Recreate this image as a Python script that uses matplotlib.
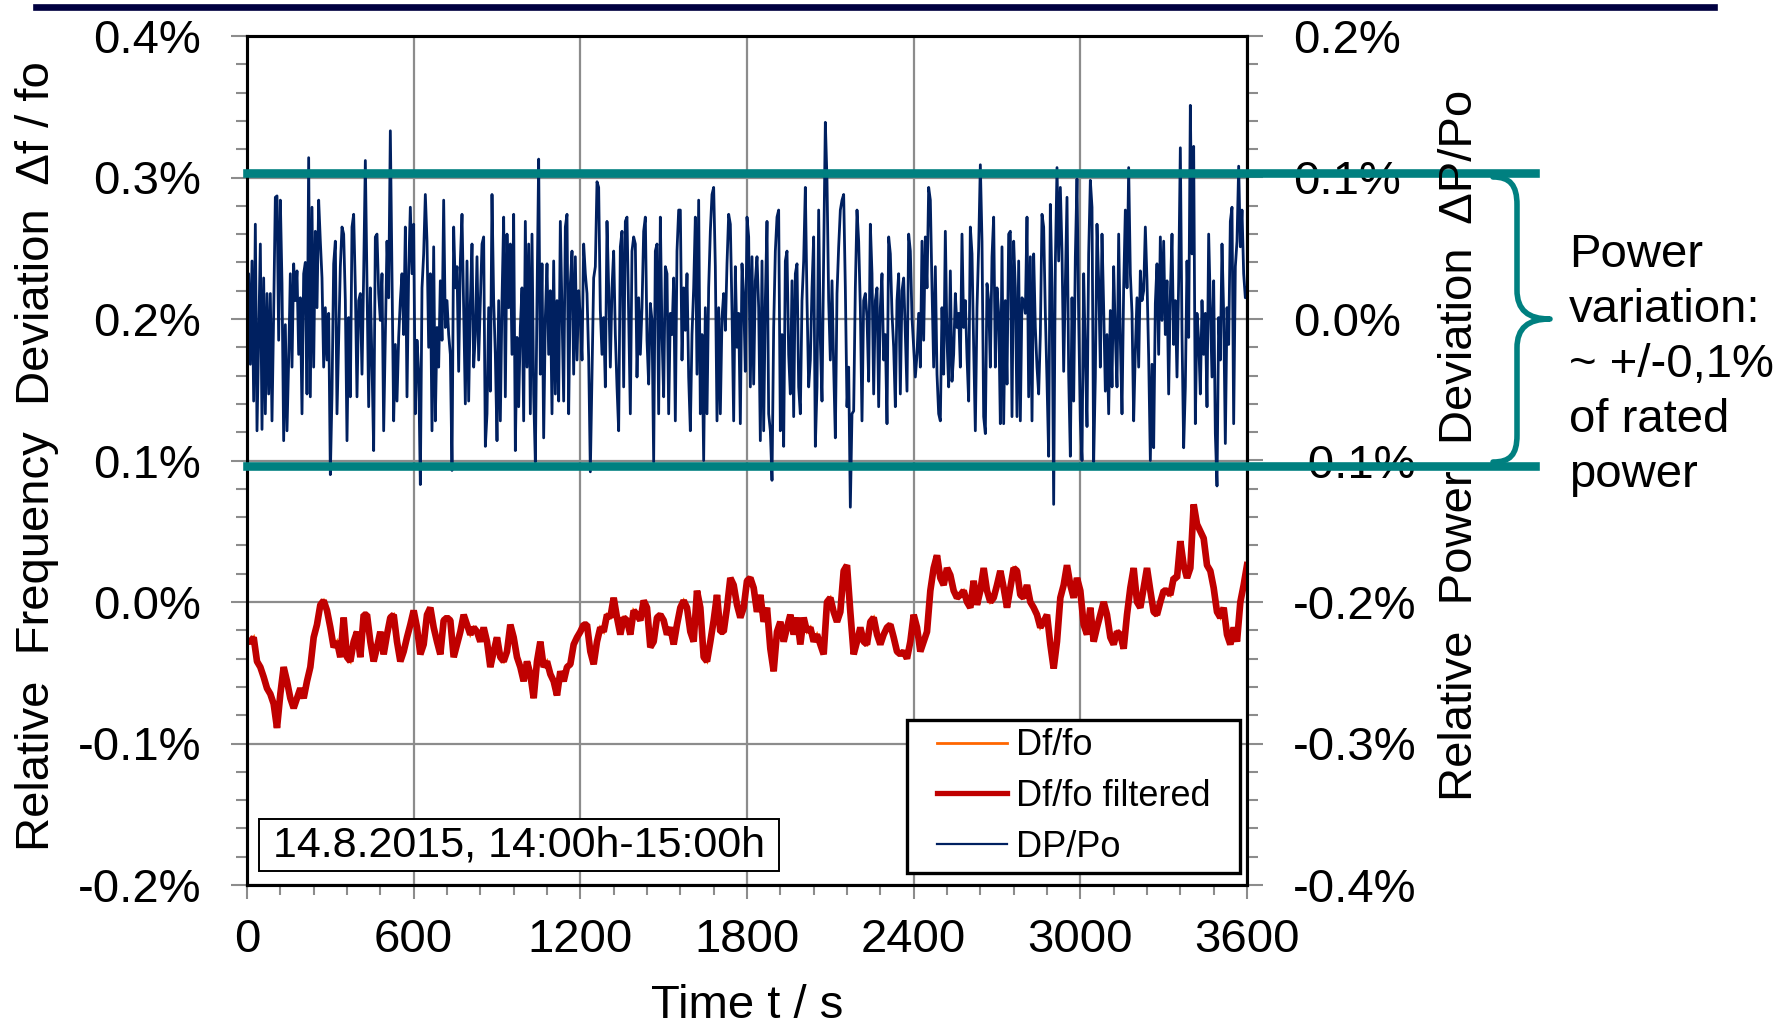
import matplotlib
matplotlib.use("Agg")
import matplotlib.pyplot as plt
import numpy as np
from matplotlib.lines import Line2D
from matplotlib.path import Path
from matplotlib.patches import PathPatch, Rectangle
from matplotlib.ticker import MultipleLocator, FuncFormatter

plt.rcParams['font.family'] = ['Liberation Sans', 'DejaVu Sans']
plt.rcParams['axes.unicode_minus'] = False

# DATA
# DP/Po, units of 0.001 %, one sample every ~6 s over 0..3600 s
dp_po_milli = [
    -15, 32, -32, 41, -58, 67, -79, -13, 53, -78,
    29, -67, 18, -53, 18, -72, 4, 86, 87, -15,
    84, 25, -86, -4, -79, -29, 32, -34, 39, 13,
    34, -25, 15, -67, 32, 40, -53, 114, -55, 79,
    -34, 62, 8, 84, 55, 29, -34, 8, -29, 4,
    -110, -53, 39, 55, -67, -15, 37, 65, 60, 13,
    -86, 1, -55, 65, 74, 22, -55, 13, 18, -39,
    32, 112, 27, -62, 22, -32, -93, 58, 60, 18,
    -1, 32, -79, -11, 55, 15, 133, 27, -72, -18,
    -58, -13, 13, 32, -11, 65, -55, 34, 79, 32,
    67, -67, -15, -37, -117, 22, 46, 88, 55, -20,
    32, -79, 51, -72, -6, -34, 27, -15, 84, -6,
    13, -11, -25, -107, 65, 22, 37, -37, 41, 74,
    8, -60, 41, -58, 11, 53, -34, -11, 44, -29,
    13, 53, 58, -90, -67, 8, -51, 88, 13, -25,
    -86, 13,
    # 900 .. 1800 s
    -72, 13, 72, -55, 60, 8, 53, -25, 74, -93,
    -13, -62, -6, 22, -72, 69, -34, 53, -67, 60,
    -53, -101, 13, 113, -39, 39, -84, 1, 39, -25,
    20, -67, 41, -53, 13, -58, 69, 4, -58, 65,
    74, -67, 25, 48, -39, 44, -29, 20, 1, -29,
    53, 32, 18, -27, -108, -39, 29, 37, 97, 93,
    6, -25, 1, -48, 69, 22, -34, 22, 48, -11,
    -48, -79, 51, 62, -48, 69, 72, 4, -67, 48,
    58, 53, -41, 15, -25, 8, 62, 72, -15, -46,
    11, -1, -101, 48, 53, -67, 72, -11, -55, 37,
    32, -67, 4, -11, 29, -72, 48, 77, 77, -29,
    22, -8, 32, -41, -79, -11, 22, 72, -39, 84,
    -67, -11, -100, 8, -67, 22, 62, 88, 93, 37,
    -72, 8, -67, 1, 18, -8, 39, 74, 67, 6,
    -72, 37, -20, 4, -74, 39, 15, -37, 72, 58,
    # 1800 .. 2700 s
    -48, 44, -46, 27, 44, 8, -86, 41, -79, 13,
    69, -67, -79, -114, -6, 48, 72, 77, -79, -11,
    -90, 41, 48, -25, -53, 27, -69, 32, 39, -48,
    -67, 13, 41, 93, 13, -48, -29, 22, 58, -90,
    -48, 77, -15, -58, 44, 139, 98, 13, -29, 27,
    -34, -84, 18, 51, 77, 84, 88, 22, -62, -34,
    -133, -67, -65, 22, 77, 55, 8, -72, 13, 18,
    1, -44, 67, 32, -53, 13, 22, -62, 8, 32,
    -29, -11, -74, 58, 46, 4, -20, -62, 13, 32,
    -53, 20, 29, -11, -51, 60, 48, 1, -20, -41,
    -25, 4, -34, 55, -15, 58, 22, 93, 84, 22,
    -34, 37, -39, -67, -72, 8, -39, 62, -15, -48,
    34, -44, -25, 18, -6, 4, -34, 60, -6, 13,
    -27, -58, 65, 46, -20, -79, 8, 51, 109, 55,
    -69, -81, 25, 13, -34, 44, 72, -34, 22, 4,
    # 2700 .. 3600 s
    -74, 51, -74, 13, -46, 60, 62, -69, 55, 22,
    -69, 41, -72, 15, 13, 4, 72, -55, 44, -72,
    46, -6, -34, -53, -11, 74, 65, 4, -44, -97,
    81, 22, -131, 39, 107, 41, 93, 48, -37, 25,
    86, -39, -97, 15, -58, 44, 99, 1, -72, -100,
    32, -25, -76, 46, 98, 79, -101, -41, 67, 27,
    -34, 60, 8, -51, -11, -67, 6, -48, 37, -11,
    -48, 60, -15, -67, 22, 77, 22, 107, 32, 4,
    -72, -22, 15, -34, 34, 13, 20, 65, 27, -27,
    -100, -32, -91, 11, 39, -25, 58, -1, 55, -11,
    27, -53, 18, 60, -18, 13, -41, 27, 121, -11,
    -91, -48, 41, -13, 151, 46, 122, -74, 4, -15,
    -53, 13, -25, 4, -62, 60, 8, -41, 27, -81,
    -118, 1, -29, 53, 4, -88, 8, -18, 69, 79,
    -74, 37, 55, 108, 51, 77, 32, 15, 22,
]

# Df/fo filtered, units of 0.001 %, one sample every 12 s
df_filtered_milli = [
    -28, -28, -25, -42, -46, -53, -61, -65, -72, -89,
    -65, -46, -56, -68, -75, -68, -61, -68, -56, -46,
    -25, -16, -2, 1, -6, -18, -32, -28, -39, -11,
    -39, -42, -28, -21, -39, -9, -9, -28, -42, -32,
    -21, -37, -23, -11, -9, -28, -42, -35, -25, -16,
    -6, -18, -37, -30, -9, -4, -18, -28, -37, -13,
    -11, -13, -39, -30, -21, -9, -16, -23, -18, -21,
    -28, -18, -28, -46, -35, -25, -39, -42, -35, -16,
    -25, -39, -46, -56, -42, -51, -68, -42, -28, -46,
    -42, -51, -56, -66, -49, -56, -46, -44, -30, -25,
    -21, -16, -16, -35, -44, -28, -18, -21, -9, -11,
    3, -11, -23, -11, -13, -23, -6, -9, -13, 1,
    -4, -32, -28, -11, -9, -13, -23, -18, -30, -16,
    -4, 1, -4, -21, -28, 8, -4, -39, -42, -28,
    -13, 5, -21, -21, -4, 17, 12, -2, -11, -4,
    15,
    17, 10, -7, 5, -14, -4, -33, -49, -21, -14,
    -28, -18, -9, -23, -11, -30, -11, -21, -18, -28,
    -23, -30, -37, 0, 3, -7, -14, -7, 22, 26,
    -7, -37, -28, -18, -28, -30, -14, -11, -23, -30,
    -23, -18, -16, -25, -35, -37, -35, -40, -28, -9,
    -18, -35, -28, -21, 8, 24, 33, 17, 12, 24,
    19, 8, 3, 5, 8, 0, -4, 15, -2, 8,
    24, 8, 0, 3, 12, 22, 10, -4, 10, 24,
    22, 5, 3, 12, 0, -4, -9, -18, -14, -9,
    -30, -47, -28, 3, 12, 26, 12, 3, 17, 8,
    -16, -23, -4, -28, -18, -9, 0, -9, -25, -30,
    -21, -23, -33, -9, 10, 24, 0, -4, 10, 24,
    8, -7, -9, 0, 8, 8, 5, 17, 17, 43,
    26, 17, 24, 69, 55, 50, 45, 26, 22, 10,
    -7, -11, -4, -23, -30, -18, -28, 0, 12, 26,
]
# the raw Df/fo trace lies under the filtered one in the picture
df_raw_milli = df_filtered_milli

band_limits = [0.103, -0.104]      # power band, % (teal lines)
x_ticks = [0, 600, 1200, 1800, 2400, 3000, 3600]
date_label = "14.8.2015, 14:00h-15:00h"
legend_labels = ["Df/fo", "Df/fo filtered", "DP/Po"]

dp_po = np.array(dp_po_milli) / 1000.0
df_filt = np.array(df_filtered_milli) / 1000.0
df_raw = np.array(df_raw_milli) / 1000.0
t_dp = np.linspace(0, 3600, len(dp_po))
t_df = np.linspace(0, 3600, len(df_filt))

NAVY = '#002060'
RED = '#C00000'
ORANGE = '#FF6600'
TEAL = '#008080'
GRID = '#8C8C8C'

W, H = 1778, 1025
fig = plt.figure(figsize=(W / 100, H / 100), dpi=100)


def fx(x):
    return x / W


def fy(y):
    return 1 - y / H


ax = fig.add_axes([fx(247), fy(885), 1000 / W, 849 / H])
ax2 = ax.twinx()


def pct(v, pos):
    if abs(v) < 1e-9:
        v = 0.0
    return f"{v:.1f}%"


ax.set_xlim(0, 3600)
ax.set_ylim(-0.2, 0.4)
ax2.set_ylim(-0.4, 0.2)
ax.set_xticks(x_ticks)
ax.xaxis.set_minor_locator(MultipleLocator(120))
for a in (ax, ax2):
    a.yaxis.set_major_locator(MultipleLocator(0.1))
    a.yaxis.set_minor_locator(MultipleLocator(0.02))
    a.yaxis.set_major_formatter(FuncFormatter(pct))
    for s in a.spines.values():
        s.set_linewidth(2.2)
        s.set_color('black')

ax.tick_params(axis='y', which='major', direction='out', length=11.5, width=1.5,
               color=GRID, labelsize=34, pad=21.5)
ax.tick_params(axis='y', which='minor', direction='out', length=8, width=1.5, color=GRID)
ax.tick_params(axis='x', which='major', direction='out', length=10, width=1.5,
               color=GRID, labelsize=34, pad=13.5)
ax.tick_params(axis='x', which='minor', direction='out', length=7, width=1.5, color=GRID)
ax2.tick_params(axis='y', which='major', direction='out', length=11.5, width=1.5,
                color=GRID, labelsize=34, pad=21.5)
ax2.tick_params(axis='y', which='minor', direction='out', length=8, width=1.5, color=GRID)

ax.grid(True, which='major', color=GRID, lw=1.6)

l_raw, = ax.plot(t_df, df_raw, color=ORANGE, lw=2.0, solid_joinstyle='miter')
l_filt, = ax.plot(t_df, df_filt, color=RED, lw=4.8, solid_joinstyle='bevel')
l_dp, = ax2.plot(t_dp, dp_po, color=NAVY, lw=2.0)

# band limits, drawn over the right tick labels
for b in band_limits:
    ax2.axhline(b, xmin=0, xmax=1.2875, color=TEAL, lw=6.2, clip_on=False, zorder=10)

# legend with a hand-placed frame
ax2.add_patch(Rectangle((0.66, 0.0141), 0.333, 0.1802, transform=ax2.transAxes,
                        facecolor='white', edgecolor='black', lw=2.4, zorder=5))
leg_handles = [Line2D([], [], color=ORANGE, lw=2.0),
               Line2D([], [], color=RED, lw=3.8),
               Line2D([], [], color=NAVY, lw=1.6)]
leg = ax2.legend(leg_handles, legend_labels, loc='center', bbox_to_anchor=(0.8265, 0.1042),
                 frameon=False, fontsize=26, handlelength=1.95, handletextpad=0.25,
                 labelspacing=0.44, borderpad=0, borderaxespad=0)
leg.set_zorder(6)

# date box
ax2.add_patch(Rectangle((0.0115, 0.0165), 0.5205, 0.0612, transform=ax2.transAxes,
                        facecolor='white', edgecolor='black', lw=1.4, zorder=5))
ax2.text(0.2718, 0.0471, date_label, transform=ax2.transAxes, fontsize=31,
         ha='center', va='center', zorder=6)

# axis titles
fig.text(fx(37), fy(456), "Relative  Frequency  Deviation  \u0394f / fo", rotation=90,
         fontsize=34, ha='center', va='center')
fig.text(fx(1460), fy(445), "Relative  Power  Deviation  \u0394P/Po", rotation=90,
         fontsize=34, ha='center', va='center')
fig.text(fx(747), fy(1018), "Time t / s", fontsize=34, ha='center', va='baseline')

# brace and note
verts = [(1493, 177), (1510, 177), (1517, 185), (1517, 205),
         (1517, 290),
         (1517, 310), (1528, 319), (1550, 319),
         (1528, 319), (1517, 328), (1517, 348),
         (1517, 435),
         (1517, 455), (1510, 462), (1493, 462)]
codes = [Path.MOVETO, Path.CURVE4, Path.CURVE4, Path.CURVE4,
         Path.LINETO,
         Path.CURVE4, Path.CURVE4, Path.CURVE4,
         Path.CURVE4, Path.CURVE4, Path.CURVE4,
         Path.LINETO,
         Path.CURVE4, Path.CURVE4, Path.CURVE4]
brace = Path([(fx(x), fy(y)) for x, y in verts], codes)
fig.add_artist(PathPatch(brace, transform=fig.transFigure, facecolor='none',
                         edgecolor=TEAL, lw=4.0, capstyle='round', joinstyle='round'))
fig.text(fx(1569), fy(365), "Power\nvariation:\n~ +/-0,1%\nof rated\npower",
         fontsize=34, ha='left', va='center', linespacing=1.33)

# dark rule along the top
fig.add_artist(Line2D([fx(36), fx(1714)], [fy(7.3), fy(7.3)], color='#000040', lw=4.8))

fig.savefig("out.png", dpi=100)
